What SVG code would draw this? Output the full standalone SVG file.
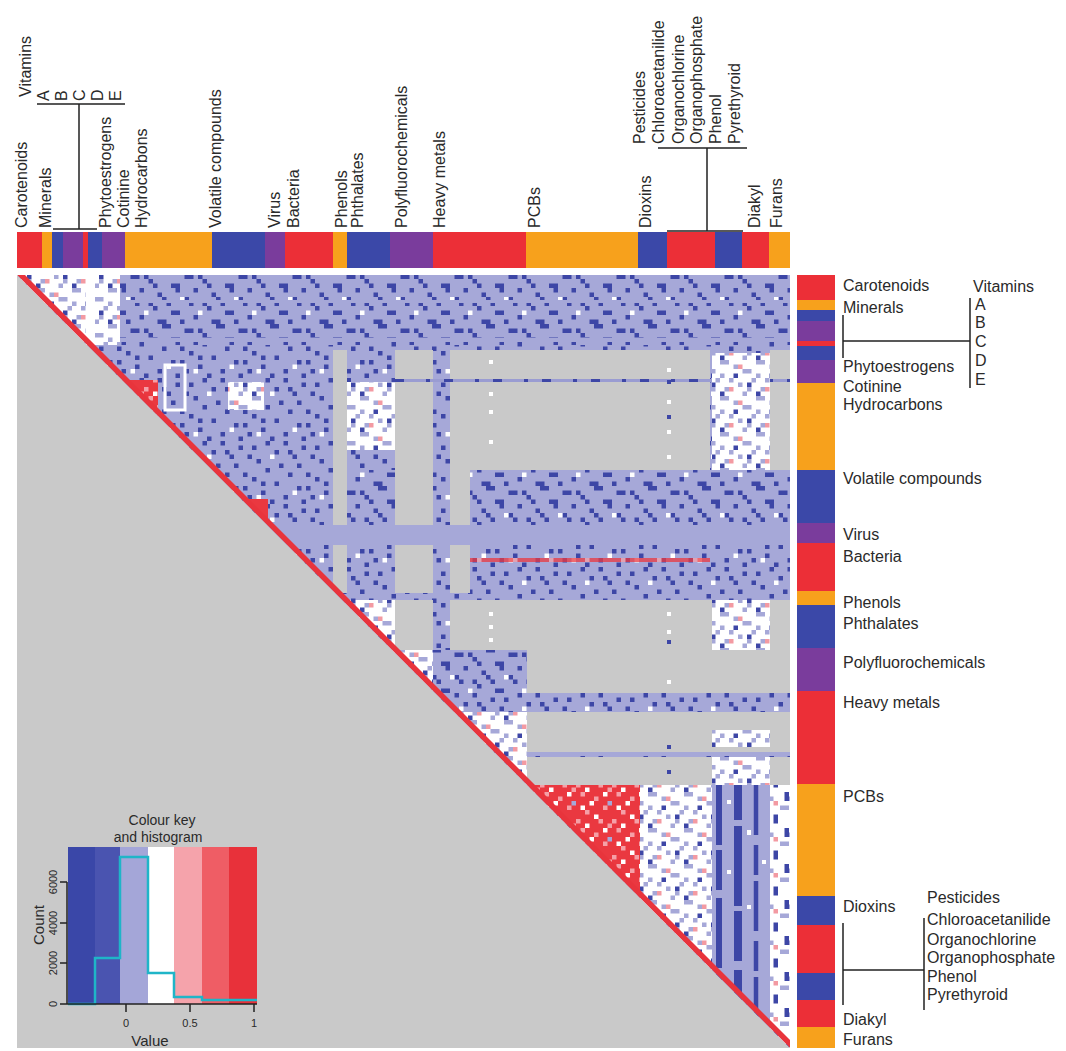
<svg xmlns="http://www.w3.org/2000/svg" width="1066" height="1051" viewBox="0 0 1066 1051">
<style>
text{font-family:"Liberation Sans",Arial,sans-serif;fill:#2a2a2a}
.lb{font-size:16px}
.ln{stroke:#222;stroke-width:1.5;fill:none}
.r{fill:#ec2f37}.o{fill:#f7a11c}.b{fill:#3b48a8}.p{fill:#7a3c9c}
.g{fill:#c9c9c9}
.tk{font-size:11px}
</style>
<defs>
<clipPath id="up"><polygon points="17,275 790,275 790,1048"/></clipPath>
<pattern id="pA" width="63" height="63" patternUnits="userSpaceOnUse">
<rect width="63" height="63" fill="#a6a8d8"/>
<path fill="#3d46a6" d="M0 4.5h4.5v4.5h-4.5zM13.5 0h4.5v4.5h-4.5zM31.5 0h4.5v4.5h-4.5zM49.5 4.5h4.5v4.5h-4.5zM22.5 9h4.5v4.5h-4.5zM40.5 13.5h4.5v4.5h-4.5zM58.5 13.5h4.5v4.5h-4.5zM4.5 18h4.5v4.5h-4.5zM27 22.5h4.5v4.5h-4.5zM45 22.5h4.5v4.5h-4.5zM13.5 27h4.5v4.5h-4.5zM54 31.5h4.5v4.5h-4.5zM0 36h4.5v4.5h-4.5zM36 31.5h4.5v4.5h-4.5zM22.5 40.5h4.5v4.5h-4.5zM45 45h4.5v4.5h-4.5zM9 49.5h4.5v4.5h-4.5zM31.5 54h4.5v4.5h-4.5zM58.5 54h4.5v4.5h-4.5zM18 58.5h4.5v4.5h-4.5zM49.5 58.5h4.5v4.5h-4.5zM36 9h4.5v4.5h-4.5zM9 40.5h4.5v4.5h-4.5zM54 45h4.5v4.5h-4.5z"/>
<path fill="#fff" d="M18 13.5h4.5v4.5h-4.5zM40.5 49.5h4.5v4.5h-4.5zM4.5 54h4.5v4.5h-4.5z"/>
</pattern>
<pattern id="pB" width="54" height="54" patternUnits="userSpaceOnUse">
<rect width="54" height="54" fill="#a6a8d8"/>
<path fill="#3d46a6" d="M0 0h9v4.5h-9zM22.5 4.5h9v4.5h-9zM40.5 9h4.5v4.5h-4.5zM9 13.5h9v4.5h-9zM13.5 18h4.5v4.5h-4.5zM31.5 18h4.5v4.5h-4.5zM49.5 22.5h4.5v4.5h-4.5zM0 27h4.5v4.5h-4.5zM22.5 27h4.5v4.5h-4.5zM27 31.5h4.5v4.5h-4.5zM40.5 31.5h4.5v4.5h-4.5zM45 36h4.5v4.5h-4.5zM9 40.5h9v4.5h-9zM31.5 45h4.5v4.5h-4.5zM0 49.5h4.5v4.5h-4.5zM49.5 49.5h4.5v4.5h-4.5zM18 49.5h4.5v4.5h-4.5zM36 4.5h4.5v4.5h-4.5zM45 13.5h4.5v4.5h-4.5zM4.5 31.5h4.5v4.5h-4.5z"/>
<path fill="#fff" d="M18 27h4.5v4.5h-4.5zM36 40.5h4.5v4.5h-4.5z"/>
</pattern>
<pattern id="pW" width="36" height="36" patternUnits="userSpaceOnUse">
<rect width="36" height="36" fill="#fff"/>
<path fill="#a6a8d8" d="M0 0h9v4.5h-9zM13.5 4.5h4.5v4.5h-4.5zM22.5 9h9v4.5h-9zM0 13.5h4.5v4.5h-4.5zM9 18h4.5v4.5h-4.5zM31.5 18h4.5v4.5h-4.5zM18 22.5h4.5v4.5h-4.5zM4.5 27h4.5v4.5h-4.5zM22.5 31.5h4.5v4.5h-4.5zM27 27h4.5v4.5h-4.5z"/>
<path fill="#3d46a6" d="M13.5 13.5h4.5v4.5h-4.5zM27 22.5h4.5v4.5h-4.5zM0 31.5h4.5v4.5h-4.5z"/>
<path fill="#f39aa2" d="M18 4.5h4.5v4.5h-4.5zM9 27h4.5v4.5h-4.5z"/>
</pattern>
<pattern id="pR" width="36" height="36" patternUnits="userSpaceOnUse">
<rect width="36" height="36" fill="#ea3840"/>
<path fill="#f5a0a7" d="M4.5 0h4.5v4.5h-4.5zM18 4.5h4.5v4.5h-4.5zM27 13.5h4.5v4.5h-4.5zM9 18h4.5v4.5h-4.5zM22.5 27h4.5v4.5h-4.5zM0 27h4.5v4.5h-4.5zM31.5 31.5h4.5v4.5h-4.5z"/>
<path fill="#fff" d="M13.5 9h4.5v4.5h-4.5zM27 0h4.5v4.5h-4.5zM4.5 13.5h4.5v4.5h-4.5zM18 22.5h4.5v4.5h-4.5zM9 31.5h4.5v4.5h-4.5z"/>
<path fill="#a6a8d8" d="M31.5 9h4.5v4.5h-4.5z"/>
</pattern>
<pattern id="pW2" width="20" height="36" patternUnits="userSpaceOnUse">
<rect width="20" height="36" fill="#fff"/>
<path fill="#3d46a6" d="M4.5 0h4.5v9h-4.5zM13.5 22.5h4.5v9h-4.5z"/>
<path fill="#a6a8d8" d="M0 13.5h9v4.5h-9zM9 4.5h4.5v4.5h-4.5z"/>
<path fill="#f39aa2" d="M13.5 9h4.5v4.5h-4.5z"/>
</pattern>
</defs>
<rect width="1066" height="1051" fill="#fff"/>

<g id="heatmap">
<rect class="g" x="17" y="275" width="773" height="773"/>
<g clip-path="url(#up)">
<rect x="17" y="275" width="773" height="773" fill="url(#pA)"/>
<rect x="120" y="275" width="670" height="70" fill="url(#pB)"/>
<rect x="347" y="470" width="48" height="55" fill="url(#pB)"/>
<rect x="470" y="470" width="320" height="55" fill="url(#pB)"/>
<rect x="433" y="650" width="94" height="43" fill="url(#pB)"/>
<rect x="120" y="300" width="670" height="3" fill="#a6a8d8"/>
<rect x="120" y="338" width="670" height="4" fill="#a6a8d8"/>
<rect x="267" y="525" width="523" height="20" fill="#a6a8d8"/>
<g class="g">
<rect x="333" y="350" width="14" height="175"/>
<rect x="333" y="545" width="14" height="48"/>
<rect x="395" y="350" width="38" height="175"/>
<rect x="395" y="545" width="38" height="48"/>
<rect x="450" y="350" width="260" height="120"/>
<rect x="450" y="470" width="20" height="55"/>
<rect x="450" y="545" width="20" height="48"/>
<rect x="770" y="350" width="20" height="120"/>
<rect x="395" y="600" width="38" height="50"/>
<rect x="450" y="600" width="340" height="50"/>
<rect x="527" y="650" width="263" height="43"/>
<rect x="527" y="712" width="263" height="40"/>
<rect x="527" y="757" width="263" height="28"/>
</g>
<rect x="395" y="379" width="395" height="3" fill="#9a9cd2"/>
<line x1="395" y1="380.5" x2="790" y2="380.5" stroke="#3d46a6" stroke-width="3" stroke-dasharray="9 22 4 14"/>
<path fill="#fff" d="M489 360h4v4h-4zM489 392h4v4h-4zM489 410h4v4h-4zM489 440h4v4h-4zM489 612h4v4h-4zM489 625h4v4h-4zM489 638h4v4h-4zM667 368h4v4h-4zM667 400h4v4h-4zM667 430h4v4h-4zM667 455h4v4h-4zM667 612h4v4h-4zM667 630h4v4h-4zM667 680h4v4h-4z"/>
<path fill="#3d46a6" d="M667 380h4v4h-4zM667 415h4v4h-4zM667 640h4v4h-4zM667 745h4v4h-4zM667 770h4v4h-4z"/>
<rect x="17" y="275" width="103" height="70" fill="url(#pW)"/>
<rect x="86" y="275" width="9" height="70" fill="#fff"/>
<rect x="347" y="382" width="48" height="68" fill="url(#pW)"/>
<rect x="712" y="353" width="58" height="117" fill="url(#pW)"/>
<rect x="712" y="600" width="58" height="50" fill="url(#pW)"/>
<rect x="712" y="730" width="58" height="17" fill="url(#pW)"/>
<rect x="712" y="757" width="58" height="28" fill="url(#pW)"/>
<rect x="640" y="785" width="72" height="263" fill="url(#pW)"/>
<rect x="712" y="785" width="58" height="263" fill="#a6a8d8"/>
<g stroke="#3d46a6" fill="none">
<line x1="719" y1="785" x2="719" y2="1048" stroke-width="6" stroke-dasharray="60 5 40 8 70 6"/>
<line x1="738" y1="785" x2="738" y2="1048" stroke-width="8" stroke-dasharray="35 6 80 5 50 9"/>
<line x1="756" y1="785" x2="756" y2="1048" stroke-width="4.5" stroke-dasharray="50 10 30 6"/>
</g>
<path fill="#fff" d="M727 800h4v4h-4zM747 830h4v5h-4zM727 870h4v4h-4zM747 905h4v4h-4zM762 860h4v4h-4z"/>
<rect x="770" y="785" width="20" height="263" fill="url(#pW2)"/>
<rect x="495" y="752" width="295" height="4" fill="#a6a8d8"/>
<rect x="165" y="365" width="20" height="45" fill="none" stroke="#fff" stroke-width="3"/>
<rect x="228" y="382" width="36" height="28" fill="url(#pW)"/>
<polygon points="342,600 395,600 395,653" fill="url(#pW)"/>
<polygon points="392,650 433,650 433,691" fill="url(#pW)"/>
<polygon points="454,712 527,712 527,785" fill="url(#pW)"/>
<rect x="470" y="558" width="240" height="4" fill="url(#pR)" opacity="0.75"/>
<polygon points="122,380 158,380 158,416" fill="url(#pR)"/>
<polygon points="242,499 268,499 268,525" fill="#ea3840"/>
<polygon points="527,785 640,785 640,898" fill="url(#pR)"/>
<polygon points="17,275 25,275 790,1040 790,1048" fill="#e8343c"/>
</g>
</g>

<g id="col-bar">
<rect class="r" x="17" y="232" width="25" height="36"/>
<rect class="o" x="42" y="232" width="10" height="36"/>
<rect class="b" x="52" y="232" width="11" height="36"/>
<rect class="p" x="63" y="232" width="20" height="36"/>
<rect class="r" x="83" y="232" width="5" height="36"/>
<rect class="b" x="88" y="232" width="14" height="36"/>
<rect class="p" x="102" y="232" width="23" height="36"/>
<rect class="o" x="125" y="232" width="87" height="36"/>
<rect class="b" x="212" y="232" width="53" height="36"/>
<rect class="p" x="265" y="232" width="20" height="36"/>
<rect class="r" x="285" y="232" width="48" height="36"/>
<rect class="o" x="333" y="232" width="14" height="36"/>
<rect class="b" x="347" y="232" width="43" height="36"/>
<rect class="p" x="390" y="232" width="43" height="36"/>
<rect class="r" x="433" y="232" width="93" height="36"/>
<rect class="o" x="526" y="232" width="112" height="36"/>
<rect class="b" x="638" y="232" width="29" height="36"/>
<rect class="r" x="667" y="232" width="48" height="36"/>
<rect class="b" x="715" y="232" width="27" height="36"/>
<rect class="r" x="742" y="232" width="27" height="36"/>
<rect class="o" x="769" y="232" width="21" height="36"/>
</g>

<g id="row-bar">
<rect class="r" x="797" y="275" width="38" height="25"/>
<rect class="o" x="797" y="300" width="38" height="10"/>
<rect class="b" x="797" y="310" width="38" height="11"/>
<rect class="p" x="797" y="321" width="38" height="20"/>
<rect class="r" x="797" y="341" width="38" height="5"/>
<rect class="b" x="797" y="346" width="38" height="14"/>
<rect class="p" x="797" y="360" width="38" height="23"/>
<rect class="o" x="797" y="383" width="38" height="87"/>
<rect class="b" x="797" y="470" width="38" height="53"/>
<rect class="p" x="797" y="523" width="38" height="20"/>
<rect class="r" x="797" y="543" width="38" height="48"/>
<rect class="o" x="797" y="591" width="38" height="14"/>
<rect class="b" x="797" y="605" width="38" height="43"/>
<rect class="p" x="797" y="648" width="38" height="43"/>
<rect class="r" x="797" y="691" width="38" height="93"/>
<rect class="o" x="797" y="784" width="38" height="112"/>
<rect class="b" x="797" y="896" width="38" height="29"/>
<rect class="r" x="797" y="925" width="38" height="48"/>
<rect class="b" x="797" y="973" width="38" height="27"/>
<rect class="r" x="797" y="1000" width="38" height="27"/>
<rect class="o" x="797" y="1027" width="38" height="21"/>
</g>

<g id="col-labels" class="lb">
<text transform="translate(27,228) rotate(-90)">Carotenoids</text>
<text transform="translate(51,228) rotate(-90)">Minerals</text>
<text transform="translate(31,97) rotate(-90)">Vitamins</text>
<text transform="translate(49,101) rotate(-90)">A</text>
<text transform="translate(67,101) rotate(-90)">B</text>
<text transform="translate(85,101) rotate(-90)">C</text>
<text transform="translate(103,101) rotate(-90)">D</text>
<text transform="translate(121,101) rotate(-90)">E</text>
<text transform="translate(111,228) rotate(-90)">Phytoestrogens</text>
<text transform="translate(129,228) rotate(-90)">Cotinine</text>
<text transform="translate(147,228) rotate(-90)">Hydrocarbons</text>
<text transform="translate(221,228) rotate(-90)">Volatile compounds</text>
<text transform="translate(280,228) rotate(-90)">Virus</text>
<text transform="translate(299,228) rotate(-90)">Bacteria</text>
<text transform="translate(347,228) rotate(-90)">Phenols</text>
<text transform="translate(363,228) rotate(-90)">Phthalates</text>
<text transform="translate(407,228) rotate(-90)">Polyfluorochemicals</text>
<text transform="translate(445,228) rotate(-90)">Heavy metals</text>
<text transform="translate(540,228) rotate(-90)">PCBs</text>
<text transform="translate(651,228) rotate(-90)">Dioxins</text>
<text transform="translate(645,144) rotate(-90)">Pesticides</text>
<text transform="translate(664,144) rotate(-90)">Chloroacetanilide</text>
<text transform="translate(684,144) rotate(-90)">Organochlorine</text>
<text transform="translate(702,144) rotate(-90)">Organophosphate</text>
<text transform="translate(721,144) rotate(-90)">Phenol</text>
<text transform="translate(740,144) rotate(-90)">Pyrethyroid</text>
<text transform="translate(760,228) rotate(-90)">Diakyl</text>
<text transform="translate(782,228) rotate(-90)">Furans</text>
</g>

<g id="row-labels" class="lb">
<text x="843" y="291">Carotenoids</text>
<text x="843" y="313">Minerals</text>
<text x="843" y="372">Phytoestrogens</text>
<text x="843" y="392">Cotinine</text>
<text x="843" y="410">Hydrocarbons</text>
<text x="843" y="484">Volatile compounds</text>
<text x="843" y="540">Virus</text>
<text x="843" y="562">Bacteria</text>
<text x="843" y="608">Phenols</text>
<text x="843" y="629">Phthalates</text>
<text x="843" y="668">Polyfluorochemicals</text>
<text x="843" y="708">Heavy metals</text>
<text x="843" y="802">PCBs</text>
<text x="843" y="912">Dioxins</text>
<text x="843" y="1025">Diakyl</text>
<text x="843" y="1045">Furans</text>
<text x="973" y="292">Vitamins</text>
<text x="975" y="310">A</text>
<text x="975" y="328">B</text>
<text x="975" y="347">C</text>
<text x="975" y="366">D</text>
<text x="975" y="385">E</text>
<text x="927" y="903">Pesticides</text>
<text x="927" y="925">Chloroacetanilide</text>
<text x="927" y="945">Organochlorine</text>
<text x="927" y="963">Organophosphate</text>
<text x="927" y="982">Phenol</text>
<text x="927" y="1000">Pyrethyroid</text>
</g>

<g id="connectors" class="ln">
<path d="M37 104H125M79 104V229M53 229H97"/>
<path d="M658 148H747M707 148V231M667 231H743"/>
<path d="M970 298V388M843 341H970M843 315V358"/>
<path d="M924 918V1010M843 970H924M843 923V1005"/>
</g>

<g id="legend">
<text x="162" y="825" text-anchor="middle" style="font-size:14px">Colour key</text>
<text x="158" y="842" text-anchor="middle" style="font-size:14px">and histogram</text>
<rect x="68" y="847" width="27" height="157" fill="#3a47a8"/>
<rect x="95" y="847" width="25" height="157" fill="#4a54b0"/>
<rect x="120" y="847" width="28" height="157" fill="#a4a6d8"/>
<rect x="148" y="847" width="26" height="157" fill="#ffffff"/>
<rect x="174" y="847" width="28" height="157" fill="#f5a3ab"/>
<rect x="202" y="847" width="27" height="157" fill="#ef5d65"/>
<rect x="229" y="847" width="28" height="157" fill="#e8313a"/>
<path d="M68 1004H95V958H120V857H148V973H174V997H202V1000H257" fill="none" stroke="#1fb5c8" stroke-width="2.5"/>
<path d="M67 882V1004M60 882H67M60 923H67M60 963H67M60 1004H67M62 1004H257M126 1004V1012M190 1004V1012M254 1004V1012" fill="none" stroke="#222" stroke-width="1.5"/>
<text class="tk" transform="translate(57,1004) rotate(-90)" text-anchor="middle">0</text>
<text class="tk" transform="translate(57,963) rotate(-90)" text-anchor="middle">2000</text>
<text class="tk" transform="translate(57,923) rotate(-90)" text-anchor="middle">4000</text>
<text class="tk" transform="translate(57,882) rotate(-90)" text-anchor="middle">6000</text>
<text transform="translate(44,925) rotate(-90)" text-anchor="middle" style="font-size:15px">Count</text>
<text class="tk" x="126" y="1027" text-anchor="middle">0</text>
<text class="tk" x="190" y="1027" text-anchor="middle">0.5</text>
<text class="tk" x="254" y="1027" text-anchor="middle">1</text>
<text x="150" y="1046" text-anchor="middle" style="font-size:15px">Value</text>
</g>
</svg>
